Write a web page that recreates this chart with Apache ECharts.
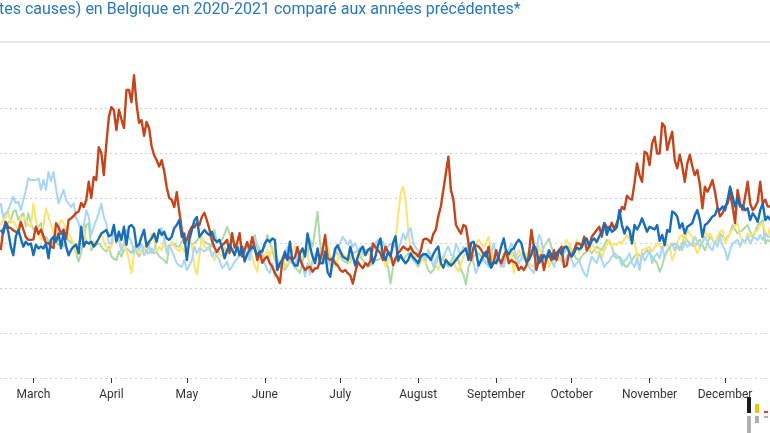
<!DOCTYPE html>
<html>
<head>
<meta charset="utf-8">
<script src="https://cdn.jsdelivr.net/npm/echarts@6/dist/echarts.min.js"></script>
<style>html,body{margin:0;padding:0;background:#fff}#c{width:770px;height:433px}</style>
</head>
<body>
<div id="c"></div>
<script>
// Day offsets relative to 1 March; first value is day -13 (16 Feb)
const firstDay = -13;
const monthTicks = [0, 31, 61, 92, 122, 153, 184, 214, 245, 275];
const monthLabels = ['March','April','May','June','July','August','September','October','November','December'];
const titleText = 'tes causes) en Belgique en 2020-2021 comparé aux années précédentes*';

const red = [284,329,347,335,333,328,325,322,347,330,313,307,307,
308,336,320,330,315,300,300,292,289,344,
335,320,330,310,351,355,360,367,370,389,380,
395,436,400,447,440,513,500,451,520,580,
602,595,551,596,575,556,640,640,613,673,
610,567,573,538,569,555,515,495,484,470,
484,460,424,400,396,380,413,370,330,300,
307,325,336,335,344,340,358,367,350,330,305,
290,280,289,295,300,307,278,322,290,300,
322,270,285,302,285,313,290,262,280,256,
265,270,255,247,233,225,211,262,270,265,
268,262,269,291,265,250,240,245,247,236,
244,244,262,284,318,266,262,266,255,250,
240,236,240,233,228,210,235,258,250,244,255,
250,260,299,290,284,277,262,292,280,275,
251,266,277,284,292,288,284,292,280,277,
270,282,307,310,307,300,320,329,360,381,
418,455,492,418,396,340,330,321,340,336,
300,262,290,295,292,285,275,270,292,247,255,
284,266,255,270,284,255,262,258,255,240,
247,240,250,273,329,292,240,262,273,240,
266,273,262,284,262,284,292,247,250,277,
270,284,299,299,292,314,284,292,314,321,
329,336,314,344,335,330,345,330,345,360,380,
375,405,399,396,433,477,451,436,503,499,
473,521,536,499,499,566,559,507,529,547,
484,466,496,470,436,477,496,470,451,462,
430,377,425,414,425,440,414,380,359,366,
381,388,410,381,344,418,388,373,403,436,
388,373,380,392,436,388,396,381,381];

const blue = [329,321,344,325,292,273,314,329,310,292,303,296,299,
273,296,288,292,288,299,266,307,314,303,
321,288,325,292,273,285,292,296,277,336,292,
303,299,303,292,300,310,321,325,329,315,
318,340,303,325,307,336,296,336,340,333,
292,296,314,329,292,303,310,321,303,329,
318,325,310,307,314,333,340,351,314,321,
262,307,329,350,358,314,321,329,322,318,325,
307,303,307,290,266,284,296,285,273,292,
273,292,259,275,284,292,286,273,281,281,
299,307,303,310,307,240,255,262,281,262,
303,259,250,250,277,288,270,321,292,270,
255,288,255,255,281,235,225,260,288,295,
281,270,266,262,292,270,250,270,285,292,273,
285,288,255,270,295,310,273,262,280,270,
300,315,260,273,262,255,262,277,268,262,
255,270,275,275,270,262,275,285,292,255,
245,262,255,250,255,262,270,277,282,288,
262,300,303,281,250,262,273,281,259,245,259,
255,270,292,310,281,275,285,288,300,307,
300,275,258,262,275,295,285,255,262,273,
265,284,273,265,277,284,275,290,292,280,
270,278,290,286,290,305,310,293,305,310,
302,315,325,344,318,336,325,329,335,373,340,
321,336,329,299,340,330,340,355,340,325,
336,333,330,340,305,318,295,329,325,370,
366,359,333,344,321,336,340,344,362,373,
351,314,340,344,351,359,362,377,373,381,
373,396,425,403,381,399,381,384,373,377,
351,366,358,347,373,388,351,359,351];

const lightBlue = [388,358,366,373,388,403,388,392,373,395,418,444,440,
440,440,444,418,440,418,458,437,458,422,
388,403,418,395,388,380,388,355,344,321,336,
373,358,318,336,351,366,388,358,344,299,
299,329,314,307,281,299,329,314,303,277,
299,284,299,273,281,292,277,284,303,329,
333,307,277,296,283,270,255,250,247,262,
240,250,262,292,277,288,285,281,286,292,270,
281,270,262,244,250,259,240,247,259,265,
277,270,284,276,262,292,310,296,285,277,
255,240,233,255,225,262,247,255,277,292,
260,255,244,277,262,255,225,255,230,260,
275,284,268,280,262,270,250,265,275,290,
300,314,305,296,307,292,300,284,290,277,285,
280,292,284,300,307,296,303,285,292,299,
290,299,284,300,321,307,325,333,300,290,
284,270,277,262,284,270,247,262,277,262,
270,282,292,275,270,299,284,275,292,280,
299,277,255,233,250,257,262,255,247,275,299,
270,262,255,247,270,284,299,290,270,255,
265,277,260,247,240,233,280,318,307,262,
270,277,262,247,265,270,260,255,270,277,
262,247,255,262,245,233,225,250,270,262,
255,277,262,247,255,260,270,277,272,266,250,
260,266,277,255,247,266,240,277,260,270,
284,255,270,277,266,292,270,281,290,299,
284,296,290,284,303,292,296,299,314,303,
292,300,314,303,290,284,303,292,314,295,
284,262,284,299,303,307,292,307,303,314,
299,310,312,306,318,307,321,314,314];

const yellow = [340,350,358,370,344,348,340,329,358,358,351,340,336,
388,351,321,307,340,377,358,340,321,307,
336,351,344,329,321,310,299,277,300,315,329,
305,299,292,303,299,310,321,303,290,284,
292,307,310,314,292,299,285,260,233,277,
292,280,277,284,303,292,321,307,281,292,
284,307,295,284,303,292,286,281,292,280,
277,307,296,250,229,270,314,292,288,284,277,
262,284,275,270,292,273,299,281,290,303,
270,284,278,273,292,266,250,236,277,262,
273,284,270,292,277,266,255,270,247,255,
255,281,292,280,262,273,284,277,247,262,
270,277,262,270,284,292,270,258,247,262,
284,277,272,266,255,270,247,262,277,270,284,
277,270,255,273,292,285,277,247,262,273,
284,307,358,410,425,396,329,284,280,270,
277,270,262,255,285,273,262,255,240,255,
270,262,258,247,262,245,236,255,270,277,
284,277,292,299,307,300,292,300,314,284,262,
270,262,255,277,268,262,292,233,270,284,
275,262,277,255,250,247,262,292,277,270,
275,247,260,262,277,262,273,290,307,299,
284,280,307,277,292,300,307,284,299,290,
277,284,268,284,295,307,292,299,296,303,299,
310,318,307,321,300,277,240,284,286,288,
292,281,290,299,296,284,307,295,292,262,
277,300,314,318,299,329,320,314,292,277,
290,307,329,314,321,310,299,314,325,329,
299,310,321,330,336,344,314,307,299,321,
314,320,324,329,340,344,325,314,336];

const green = [388,358,340,345,351,370,373,351,360,366,336,366,344,
330,332,336,344,307,314,305,296,307,300,
296,303,292,314,305,302,299,277,259,280,307,
340,344,284,292,296,299,292,285,281,292,
270,265,262,281,270,284,288,284,277,292,
280,270,281,292,280,277,288,277,280,270,
266,262,255,292,296,299,292,292,303,307,
300,303,296,300,305,314,307,303,300,296,292,
329,299,303,307,320,336,320,307,300,292,
288,284,288,292,262,290,318,290,277,284,
292,318,300,284,262,255,250,247,240,250,
262,255,247,240,233,260,277,275,307,292,
329,369,300,262,255,277,270,262,284,275,
270,262,258,255,266,277,280,284,270,262,255,
247,250,255,262,262,266,270,260,247,210,
247,262,270,266,262,270,277,270,262,255,
247,260,270,255,240,233,240,250,270,262,
262,255,247,260,270,262,262,240,230,207,
247,260,270,274,277,271,266,255,258,262,270,
277,262,247,258,270,277,284,273,262,270,
277,273,270,280,284,270,262,270,277,292,
300,310,290,277,270,262,270,277,288,292,
280,273,265,262,270,277,281,284,277,285,
292,288,284,295,307,300,292,270,266,270,262,
250,247,255,262,270,277,272,270,277,284,
277,270,262,255,236,250,270,284,292,295,
299,292,284,300,314,305,299,295,292,300,
307,295,284,300,314,307,299,310,321,314,
307,314,321,340,330,321,325,329,335,340,
325,314,326,340,345,351,299,307,303];

function pairs(arr) { return arr.map((v, i) => [firstDay + i, v]); }

const chart = echarts.init(document.getElementById('c'), null, { renderer: 'canvas' });
const gridColors = ['#cfcfcf','#cfcfcf','#cfcfcf','#cfcfcf','#cfcfcf','#cfcfcf','#cfcfcf','rgba(0,0,0,0)'];

function lineSeries(name, data, color, width, z) {
  return {
    name: name, type: 'line', data: pairs(data), showSymbol: false, symbol: 'none',
    lineStyle: { color: color, width: width, join: 'round' }, itemStyle: { color: color },
    z: z, silent: true, animation: false
  };
}

chart.setOption({
  animation: false,
  backgroundColor: '#ffffff',
  grid: { left: 0, right: 0, top: 63, bottom: 55, containLabel: false },
  xAxis: {
    type: 'value', min: -13.28, max: 292.88,
    axisLine: { show: false },
    splitLine: { show: false },
    axisTick: { show: true, length: 5, lineStyle: { color: '#333', width: 1 }, customValues: monthTicks },
    axisLabel: {
      show: true, margin: 11, color: '#333', fontFamily: 'Roboto', fontSize: 12,
      customValues: monthTicks,
      formatter: function (v) { const i = monthTicks.indexOf(Math.round(v)); return i >= 0 ? monthLabels[i] : ''; }
    }
  },
  yAxis: {
    type: 'value', min: 0, max: 700, interval: 100,
    axisLine: { show: false }, axisTick: { show: false }, axisLabel: { show: false },
    splitLine: { show: true, lineStyle: { color: gridColors, type: [2, 3], width: 1 } }
  },
  graphic: [
    { type: 'text', left: -1, top: 2, style: { text: titleText, fill: '#2a78b8', font: '16px Roboto' } },
    { type: 'rect', shape: { x: 0, y: 41, width: 770, height: 2 }, style: { fill: '#e8e8e8' } },
    { type: 'rect', shape: { x: 747, y: 397, width: 4, height: 16 }, style: { fill: '#1a1a1a' } },
    { type: 'rect', shape: { x: 747, y: 416, width: 4, height: 17 }, style: { fill: '#b0b0b0' } },
    { type: 'rect', shape: { x: 755, y: 404, width: 4, height: 9 }, style: { fill: '#f5c400' } },
    { type: 'rect', shape: { x: 755, y: 416, width: 4, height: 7 }, style: { fill: '#b0b0b0' } },
    { type: 'rect', shape: { x: 764, y: 411, width: 4, height: 2 }, style: { fill: '#e8323c' } },
    { type: 'rect', shape: { x: 764, y: 416, width: 4, height: 2 }, style: { fill: '#b0b0b0' } }
  ],
  series: [
    lineSeries('green', green, '#abd9a6', 2, 1),
    lineSeries('yellow', yellow, '#ffe270', 2, 2),
    lineSeries('lightBlue', lightBlue, '#a9d5f7', 2, 3),
    lineSeries('2020', red, '#c4451c', 2.4, 4),
    lineSeries('2021', blue, '#1a6db5', 2.4, 5)
  ]
});
</script>
</body>
</html>
